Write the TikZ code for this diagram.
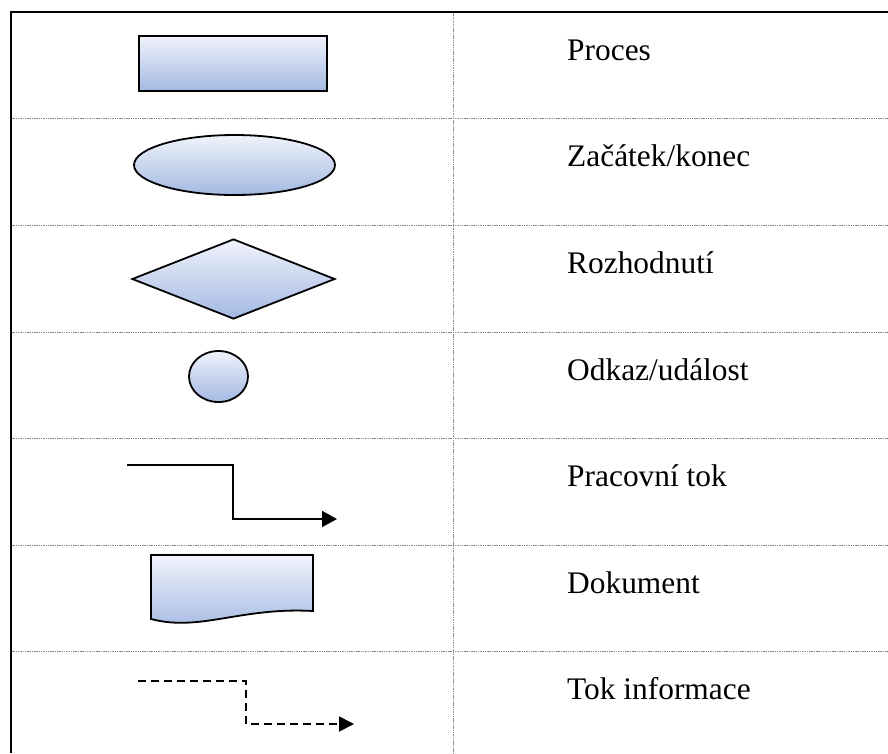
\documentclass[tikz,border=0pt]{standalone}
\usepackage{fontspec}
\setmainfont{Liberation Serif}
\usetikzlibrary{shapes.geometric,arrows.meta}
\definecolor{fillTop}{RGB}{240,243,251}
\definecolor{fillBot}{RGB}{163,185,227}
\definecolor{gridcol}{RGB}{140,140,140}
\begin{document}
\begin{tikzpicture}[x=1pt,y=-1pt,
  symbol/.style={draw=black,line width=1.8pt,inner sep=0pt,
    top color=fillTop,bottom color=fillBot},
  gridline/.style={draw=gridcol,line width=1pt,dash pattern=on 1.5pt off 0.8pt},
  frameline/.style={draw=black,line width=2.4pt},
  flow/.style={draw=black,line width=1.8pt,
    -{Triangle[length=15pt,width=16pt]}},
  infoflow/.style={draw=black,line width=1.8pt,dash pattern=on 8pt off 5pt,
    -{Triangle[length=15pt,width=15pt]}},
  label/.style={anchor=base west,inner sep=0pt,
    font=\fontsize{31.4}{36}\selectfont}]
\useasboundingbox (0,0) rectangle (888,753);

% table grid
\foreach \y in {118,225,332,438,545,651}
  \draw[gridline] (11,\y) -- (888,\y);
\draw[gridline] (453,12) -- (453,753);
\draw[frameline] (11,753) -- (11,12) -- (888,12);

% symbols
\node[symbol,rectangle,minimum width=188pt,minimum height=55pt] (proc) at (233,63.5) {};
\node[symbol,ellipse,minimum width=201pt,minimum height=60pt] (term) at (234.5,165) {};
\node[symbol,diamond,minimum width=203pt,minimum height=80pt] (dec) at (233.5,279) {};
\node[symbol,ellipse,minimum width=59pt,minimum height=51pt] (ref) at (218.5,376.5) {};

% workflow connector
\coordinate (wfA) at (127,465);
\coordinate (wfB) at (233,465);
\coordinate (wfC) at (233,519);
\coordinate (wfD) at (337,519);
\draw[flow] (wfA) -- (wfB) -- (wfC) -- (wfD);

% document symbol
\path[symbol] (151,555) -- (313,555) -- (313,611)
  .. controls (240,607) and (200,632) .. (151,619) -- cycle;

% information flow connector
\coordinate (ifA) at (138,681);
\coordinate (ifB) at (246,681);
\coordinate (ifC) at (246,724);
\coordinate (ifD) at (354,724);
\draw[infoflow] (ifA) -- (ifB) -- (ifC) -- (ifD);

% descriptions
\node[label] (t1) at (567,60.5) {Proces};
\node[label] (t2) at (567,166.5) {Začátek/konec};
\node[label] (t3) at (567,273.5) {Rozhodnutí};
\node[label] (t4) at (567,380.5) {Odkaz/událost};
\node[label] (t5) at (567,486.5) {Pracovní tok};
\node[label] (t6) at (567,593.5) {Dokument};
\node[label] (t7) at (567,699.5) {Tok informace};
\end{tikzpicture}
\end{document}
